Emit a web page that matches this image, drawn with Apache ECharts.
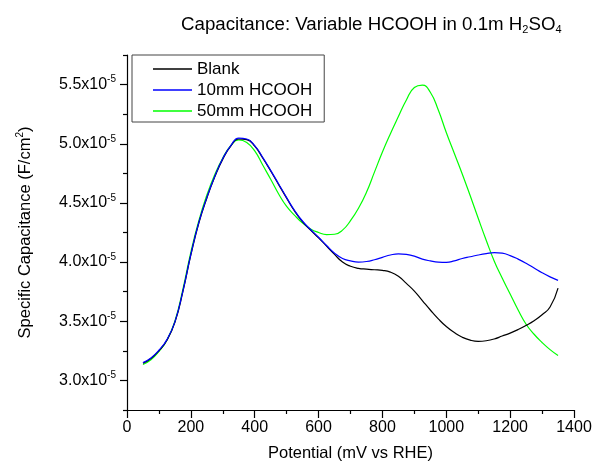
<!DOCTYPE html>
<html>
<head>
<meta charset="utf-8">
<script src="https://cdn.jsdelivr.net/npm/echarts@6/dist/echarts.min.js"></script>
<style>html,body{margin:0;padding:0;background:#fff;}#c{width:595px;height:468px;}</style>
</head>
<body>
<div id="c"></div>
<script>
// Potential (mV vs RHE)
var potential = [50,75,100,125,150,175,200,225,250,275,300,325,350,375,400,425,450,475,500,525,550,575,600,625,650,675,700,725,750,775,800,825,850,875,900,925,950,975,1000,1025,1050,1075,1100,1125,1150,1175,1200,1225,1250,1275,1300,1325,1350];
// Specific capacitance, in units of 1e-5 F/cm2
var blank = [3.145,3.185,3.25,3.34,3.49,3.75,4.06,4.33,4.54,4.72,4.87,4.98,5.04,5.035,4.98,4.88,4.77,4.655,4.54,4.43,4.34,4.27,4.205,4.135,4.065,4.00,3.965,3.947,3.94,3.935,3.93,3.915,3.88,3.82,3.755,3.675,3.595,3.52,3.455,3.405,3.365,3.34,3.33,3.335,3.35,3.375,3.40,3.43,3.465,3.505,3.555,3.62,3.78];
var hcooh10 = [3.15,3.19,3.255,3.345,3.495,3.755,4.065,4.335,4.545,4.725,4.875,4.985,5.048,5.04,4.985,4.885,4.775,4.66,4.545,4.435,4.345,4.275,4.21,4.14,4.075,4.03,4.01,4.0,4.005,4.02,4.04,4.06,4.07,4.065,4.05,4.025,4.01,4.0,3.998,4.01,4.03,4.045,4.06,4.072,4.08,4.075,4.055,4.025,3.99,3.95,3.91,3.875,3.845];
var hcooh50 = [3.135,3.175,3.245,3.34,3.50,3.77,4.085,4.35,4.565,4.74,4.88,4.985,5.032,5.01,4.94,4.82,4.70,4.575,4.47,4.395,4.33,4.28,4.25,4.232,4.235,4.27,4.35,4.455,4.59,4.76,4.93,5.085,5.23,5.37,5.475,5.495,5.435,5.285,5.095,4.92,4.745,4.56,4.37,4.185,4.01,3.865,3.73,3.595,3.475,3.39,3.32,3.26,3.21];
var seriesNames = ['Blank','10mm HCOOH','50mm HCOOH'];
var xTicks = [0,200,400,600,800,1000,1200,1400];
var yMajorTicks = [3.0,3.5,4.0,4.5,5.0,5.5];
var yMinorTicks = [2.75,3.25,3.75,4.25,4.75,5.25,5.75];

function pairs(xs, ys){ return xs.map(function(x,i){return [x, ys[i]];}); }
var FF = 'Liberation Sans, Arial, sans-serif';
var chart = echarts.init(document.getElementById('c'), null, {renderer:'canvas'});
chart.setOption({
  animation:false,
  backgroundColor:'#fff',
  title:{
    text:'{a|Capacitance: Variable HCOOH in 0.1m H}{sub|2}{a|SO}{sub|4}',
    left:176, top:9,
    textStyle:{fontWeight:'normal', rich:{
      a:{fontSize:18.7, fontWeight:'normal', color:'#000', fontFamily:FF},
      sub:{fontSize:11, fontWeight:'normal', color:'#000', fontFamily:FF, padding:[10,0,0,0]}
    }}
  },
  legend:{
    orient:'vertical', left:132, top:55,
    padding:[4,12,1,21],
    icon:'rect',
    itemWidth:39, itemHeight:1.3, itemGap:1,
    borderColor:'#444', borderWidth:1, borderRadius:0,
    textStyle:{fontSize:17, color:'#000', fontFamily:FF, lineHeight:20},
    data:seriesNames
  },
  grid:{left:127, right:21, top:55, bottom:58, containLabel:false},
  xAxis:{
    type:'value', min:0, max:1400, interval:200,
    axisLine:{show:true, lineStyle:{color:'#000', width:1.2}},
    axisTick:{show:true, length:8, lineStyle:{color:'#000', width:1.2}},
    minorTick:{show:true, splitNumber:2, length:4, lineStyle:{color:'#000', width:1.2}},
    splitLine:{show:false},
    axisLabel:{fontSize:16, color:'#000', fontFamily:FF, margin:10, customValues:xTicks, formatter:function(v){return String(v);}},
    name:'Potential (mV vs RHE)', nameLocation:'middle', nameGap:35,
    nameTextStyle:{fontSize:16.5, color:'#000', fontFamily:FF}
  },
  yAxis:[{
    type:'value', min:2.75, max:5.75, position:'left',
    axisLine:{show:true, lineStyle:{color:'#000', width:1.2}},
    axisTick:{show:true, length:7, customValues:yMajorTicks, lineStyle:{color:'#000', width:1.2}},
    splitLine:{show:false},
    axisLabel:{
      customValues:yMajorTicks, margin:11,
      formatter:function(v){ return '{a|'+v.toFixed(1)+'x10}{sup|-5}'; },
      rich:{
        a:{fontSize:16, color:'#000', fontFamily:FF},
        sup:{fontSize:10, color:'#000', fontFamily:FF, padding:[0,0,10,0]}
      }
    },
    name:'{a|Specific Capacitance (F/cm}{sup|2}{a|)}', nameLocation:'middle', nameGap:92,
    nameTextStyle:{rich:{
      a:{fontSize:16.5, color:'#000', fontFamily:FF},
      sup:{fontSize:10, color:'#000', fontFamily:FF, padding:[0,0,10,0]}
    }}
  },{
    type:'value', min:2.75, max:5.75, position:'left',
    axisLine:{show:false},
    axisTick:{show:true, length:4, customValues:yMinorTicks, lineStyle:{color:'#000', width:1.2}},
    axisLabel:{show:false},
    splitLine:{show:false}
  }],
  series:[
    {name:seriesNames[0], type:'line', data:pairs(potential, blank), smooth:0.5, symbol:'none', lineStyle:{color:'#000000', width:1.2}, itemStyle:{color:'#000000'}, z:3},
    {name:seriesNames[1], type:'line', data:pairs(potential, hcooh10), smooth:0.5, symbol:'none', lineStyle:{color:'#0000ff', width:1.2}, itemStyle:{color:'#0000ff'}, z:4},
    {name:seriesNames[2], type:'line', data:pairs(potential, hcooh50), smooth:0.5, symbol:'none', lineStyle:{color:'#00ff00', width:1.2}, itemStyle:{color:'#00ff00'}, z:2}
  ]
});
</script>
</body>
</html>
